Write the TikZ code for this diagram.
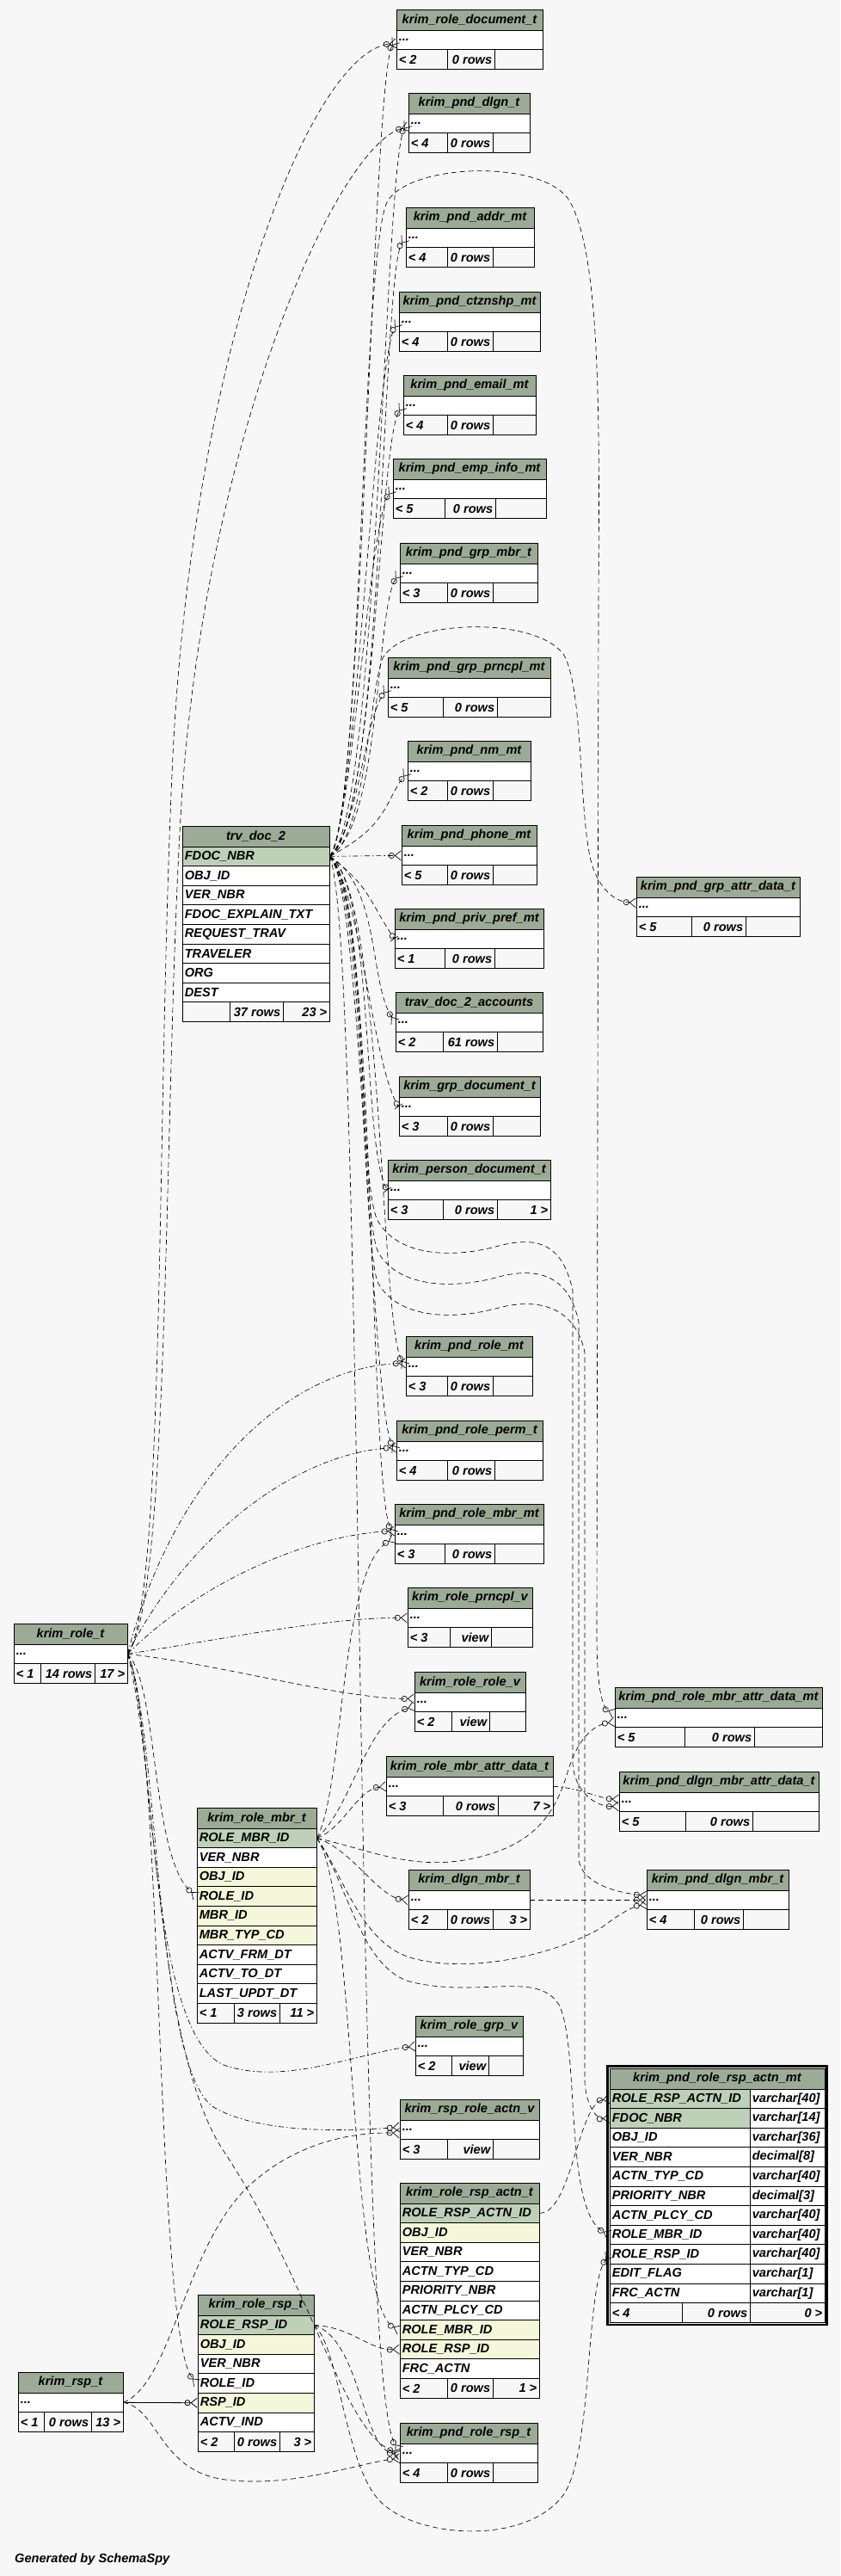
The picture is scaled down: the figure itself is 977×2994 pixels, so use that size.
\documentclass[tikz,border=0pt]{standalone}
\usepackage{fontspec}
\setmainfont{Liberation Sans}
\usepackage{xcolor}
\usepackage{tikz}
\usetikzlibrary{arrows.meta,calc}

\definecolor{hdrcol}{HTML}{9BAB96}
\definecolor{pkcol}{HTML}{BED1B8}
\definecolor{fkcol}{HTML}{F4F7DA}
\definecolor{bgcol}{HTML}{F7F7F7}

\begin{document}
\begin{tikzpicture}[
  x=1pt, y=-1pt,
  font=\fontsize{14.6}{16}\selectfont\bfseries\itshape,
  hdr/.style={draw=black, fill=hdrcol, line width=0.8pt, inner sep=0pt, minimum height=24pt},
  rowbox/.style={draw=black, fill=white, line width=0.8pt, inner sep=0pt, minimum height=22.6pt},
  footbox/.style={draw=black, fill=bgcol, line width=0.8pt, inner sep=0pt, minimum height=23pt},
  txt/.style={inner sep=3pt},
  fk/.style={line width=0.65pt, dash pattern=on 6pt off 4pt},
  fkdot/.style={line width=0.65pt, dash pattern=on 6pt off 3pt on 1.5pt off 3pt},
  many/.style={-{Circle[open,length=7pt,width=7pt] Straight Barb[reversed,length=7pt,width=11pt]}},
  onlyone/.style={-{Circle[open,length=7pt,width=7pt] Bar[width=11pt]}}
]

\fill[bgcol] (0,0) rectangle (977,2994);
\useasboundingbox (0,0) rectangle (977,2994);

\foreach \nm/\xl/\xr/\yt/\ca/\cb/\ttl/\fa/\fb/\fc in {
  roledoc/461/631/11/520/575/krim\_role\_document\_t/< 2/0 rows/{},
  pnddlgn/475/616/108/520/573/krim\_pnd\_dlgn\_t/< 4/0 rows/{},
  pndaddr/472/621/241/520/573/krim\_pnd\_addr\_mt/< 4/0 rows/{},
  pndctz/464/628/339/520/573/krim\_pnd\_ctznshp\_mt/< 4/0 rows/{},
  pndemail/469/623/436/520/573/krim\_pnd\_email\_mt/< 4/0 rows/{},
  pndemp/457/635/533/517/576/krim\_pnd\_emp\_info\_mt/< 5/0 rows/{},
  pndgrpmbr/465/625/631/520/573/krim\_pnd\_grp\_mbr\_t/< 3/0 rows/{},
  pndgrpprn/451/640/764/515/578/krim\_pnd\_grp\_prncpl\_mt/< 5/0 rows/{},
  pndnm/474/617/861/520/573/krim\_pnd\_nm\_mt/< 2/0 rows/{},
  pndphone/467/624/959/520/573/krim\_pnd\_phone\_mt/< 5/0 rows/{},
  pndpriv/459/632/1056/517/575/krim\_pnd\_priv\_pref\_mt/< 1/0 rows/{},
  travacct/460/631/1153/515/578/trav\_doc\_2\_accounts/< 2/61 rows/{},
  grpdoc/464/628/1251/520/573/krim\_grp\_document\_t/< 3/0 rows/{},
  persdoc/451/640/1348/515/578/krim\_person\_document\_t/< 3/0 rows/1 >,
  grpattr/740/930/1019/804/867/krim\_pnd\_grp\_attr\_data\_t/< 5/0 rows/{},
  pndrole/472/619/1553/520/573/krim\_pnd\_role\_mt/< 3/0 rows/{},
  pndperm/461/631/1651/520/575/krim\_pnd\_role\_perm\_t/< 4/0 rows/{},
  pndrolembr/459/632/1748/517/575/krim\_pnd\_role\_mbr\_mt/< 3/0 rows/{},
  prncplv/474/619/1845/523/571/krim\_role\_prncpl\_v/< 3/view/{},
  rolerolev/482/611/1943/525/569/krim\_role\_role\_v/< 2/view/{},
  pndrmattr/715/956/1961/796/877/krim\_pnd\_role\_mbr\_attr\_data\_mt/< 5/0 rows/{},
  rmattr/449/643/2041/515/579/krim\_role\_mbr\_attr\_data\_t/< 3/0 rows/7 >,
  pnddmattr/720/952/2059/797/875/krim\_pnd\_dlgn\_mbr\_attr\_data\_t/< 5/0 rows/{},
  dlgnmbr/475/616/2173/520/573/krim\_dlgn\_mbr\_t/< 2/0 rows/3 >,
  pnddlgnmbr/752/917/2173/807/864/krim\_pnd\_dlgn\_mbr\_t/< 4/0 rows/{},
  grpv/483/608/2343/525/568/krim\_role\_grp\_v/< 2/view/{},
  rsprolev/465/627/2440/520/573/krim\_rsp\_role\_actn\_v/< 3/view/{},
  pndrsp/465/625/2816/520/573/krim\_pnd\_role\_rsp\_t/< 4/0 rows/{},
  roletab/16/148/1887/47/110/krim\_role\_t/< 1/14 rows/17 >,
  rsptab/21/143/2757/51/106/krim\_rsp\_t/< 1/0 rows/13 >} {
  \node[hdr, minimum width={(\xr-\xl)*1pt}] (\nm-h) at ({(\xl+\xr)/2},\yt+12) {\ttl};
  \node[rowbox, minimum width={(\xr-\xl)*1pt}] (\nm) at ({(\xl+\xr)/2},\yt+35.3) {};
  \node[txt, anchor=west] at (\nm.west) {...};
  \node[footbox, minimum width={(\ca-\xl)*1pt}] (\nm-a) at ({(\xl+\ca)/2},\yt+58.1) {};
  \node[footbox, minimum width={(\cb-\ca)*1pt}] (\nm-b) at ({(\ca+\cb)/2},\yt+58.1) {};
  \node[footbox, minimum width={(\xr-\cb)*1pt}] (\nm-c) at ({(\cb+\xr)/2},\yt+58.1) {};
  \node[txt, anchor=west] at (\nm-a.west) {\fa};
  \node[txt, anchor=east] at (\nm-b.east) {\fb};
  \node[txt, anchor=east] at (\nm-c.east) {\fc};
}

\foreach \nm/\xl/\xr/\yt/\ca/\cb/\ttl/\nr/\fa/\fb/\fc/\rows in {
  trv/212/383/960/267/329/trv\_doc\_2/8/{}/37 rows/23 >/{FDOC\_NBR/pkcol,OBJ\_ID/white,VER\_NBR/white,FDOC\_EXPLAIN\_TXT/white,REQUEST\_TRAV/white,TRAVELER/white,ORG/white,DEST/white},
  rmbr/229/368/2101/272/325/krim\_role\_mbr\_t/9/< 1/3 rows/11 >/{ROLE\_MBR\_ID/pkcol,VER\_NBR/white,OBJ\_ID/fkcol,ROLE\_ID/fkcol,MBR\_ID/fkcol,MBR\_TYP\_CD/fkcol,ACTV\_FRM\_DT/white,ACTV\_TO\_DT/white,LAST\_UPDT\_DT/white},
  rra/465/627/2537/520/573/krim\_role\_rsp\_actn\_t/9/< 2/0 rows/1 >/{ROLE\_RSP\_ACTN\_ID/pkcol,OBJ\_ID/fkcol,VER\_NBR/white,ACTN\_TYP\_CD/white,PRIORITY\_NBR/white,ACTN\_PLCY\_CD/white,ROLE\_MBR\_ID/fkcol,ROLE\_RSP\_ID/fkcol,FRC\_ACTN/white},
  rrsp/230/365/2667/272/325/krim\_role\_rsp\_t/6/< 2/0 rows/3 >/{ROLE\_RSP\_ID/pkcol,OBJ\_ID/fkcol,VER\_NBR/white,ROLE\_ID/white,RSP\_ID/fkcol,ACTV\_IND/white}} {
  \node[hdr, minimum width={(\xr-\xl)*1pt}] (\nm-h) at ({(\xl+\xr)/2},\yt+12) {\ttl};
  \foreach \cn/\fl [count=\i] in \rows {
    \node[rowbox, fill=\fl, minimum width={(\xr-\xl)*1pt}] (\nm-\i) at ({(\xl+\xr)/2},{\yt+24+(\i-0.5)*22.6}) {};
    \node[txt, anchor=west] at (\nm-\i.west) {\cn};
  }
  \node[footbox, minimum width={(\ca-\xl)*1pt}] (\nm-a) at ({(\xl+\ca)/2},{\yt+35.5+\nr*22.6}) {};
  \node[footbox, minimum width={(\cb-\ca)*1pt}] (\nm-b) at ({(\ca+\cb)/2},{\yt+35.5+\nr*22.6}) {};
  \node[footbox, minimum width={(\xr-\cb)*1pt}] (\nm-c) at ({(\cb+\xr)/2},{\yt+35.5+\nr*22.6}) {};
  \node[txt, anchor=west] at (\nm-a.west) {\fa};
  \node[txt, anchor=east] at (\nm-b.east) {\fb};
  \node[txt, anchor=east] at (\nm-c.east) {\fc};
}

\node[hdr, minimum width=250pt] (foc-h) at (834,2416) {krim\_pnd\_role\_rsp\_actn\_mt};
\foreach \cn/\ty/\fl [count=\i] in {ROLE\_RSP\_ACTN\_ID/varchar[40]/pkcol,FDOC\_NBR/varchar[14]/pkcol,OBJ\_ID/varchar[36]/white,VER\_NBR/decimal[8]/white,ACTN\_TYP\_CD/varchar[40]/white,PRIORITY\_NBR/decimal[3]/white,ACTN\_PLCY\_CD/varchar[40]/white,ROLE\_MBR\_ID/varchar[40]/white,ROLE\_RSP\_ID/varchar[40]/white,EDIT\_FLAG/varchar[1]/white,FRC\_ACTN/varchar[1]/white} {
  \node[rowbox, fill=\fl, minimum width=163pt] (foc-\i) at (790.5,{2428+(\i-0.5)*22.6}) {};
  \node[rowbox, minimum width=87pt] (foc-t\i) at (915.5,{2428+(\i-0.5)*22.6}) {};
  \node[txt, anchor=west] at (foc-\i.west) {\cn};
  \node[txt, anchor=west] at (foc-t\i.west) {\ty};
}
\node[footbox, minimum width=84pt] (foc-a) at (751,2688.1) {};
\node[footbox, minimum width=79pt] (foc-b) at (832.5,2688.1) {};
\node[footbox, minimum width=87pt] (foc-c) at (915.5,2688.1) {};
\node[txt, anchor=west] at (foc-a.west) {< 4};
\node[txt, anchor=east] at (foc-b.east) {0 rows};
\node[txt, anchor=east] at (foc-c.east) {0 >};
\draw[line width=2.6pt] ([shift={(-2,-2)}]foc-h.north west) rectangle ([shift={(2,2)}]foc-c.south east);

\foreach \ch/\cx in {roledoc/422,pnddlgn/440,pndaddr/446,pndctz/414,pndemail/436,pndemp/410,pndgrpmbr/444,pndgrpprn/418,pndnm/450}
  \draw[fk, many] (trv-1.east) .. controls (\cx,960) and ($(\ch.west)+(-28,40)$) .. (\ch.west);
\foreach \ch/\cx/\tp in {pndpriv/430/onlyone,travacct/442/many,grpdoc/418/onlyone,persdoc/436/onlyone,pndrole/446/many,pndperm/422/many,pndrolembr/438/many}
  \draw[fk, \tp] (trv-1.east) .. controls (\cx,1030) and ($(\ch.west)+(-30,-45)$) .. (\ch.west);
\draw[fkdot, many] (trv-1.east) -- (pndphone.west);
\draw[fk, many] (trv-1.east) .. controls (425,1100) and (410,2780) .. ([yshift=4pt]pndrsp.west);
\draw[fk, many] (trv-1.east) .. controls (425,975) and (430,800) .. (445,765) .. controls (470,720) and (620,715) .. (655,760) .. controls (680,800) and (672,960) .. (690,1010) .. controls (700,1035) and (715,1048) .. ([yshift=5pt]grpattr.west);
\draw[fk, many] (trv-1.east) .. controls (420,960) and (420,300) .. (450,235) .. controls (475,190) and (625,185) .. (660,230) .. controls (700,290) and (697,500) .. (696,700) -- (694,1900) .. controls (694,1960) and (700,1985) .. ([yshift=5pt]pndrmattr.west);
\draw[fk, many] (trv-1.east) .. controls (430,1040) and (415,1380) .. (440,1420) .. controls (465,1462) and (530,1462) .. (580,1448) .. controls (630,1435) and (655,1450) .. (666,1500) -- (666,2050) .. controls (668,2080) and (690,2100) .. ([yshift=-5pt]pnddmattr.west);
\draw[fk, many] (trv-1.east) .. controls (428,1045) and (418,1410) .. (440,1456) .. controls (465,1498) and (530,1498) .. (580,1484) .. controls (630,1471) and (662,1486) .. (673,1536) -- (673,2160) .. controls (675,2190) and (720,2200) .. ([yshift=5pt]pnddlgnmbr.west);
\draw[fk, many] (trv-1.east) .. controls (426,1050) and (420,1450) .. (440,1492) .. controls (465,1534) and (530,1534) .. (580,1520) .. controls (630,1507) and (670,1522) .. (680,1572) -- (680,2420) .. controls (682,2450) and (695,2463) .. (foc-2.west);

\draw[fk, many] (roletab.east) .. controls (192,1860) and (182,1300) .. (200,900) .. controls (220,420) and (360,60) .. ([yshift=-4pt]roledoc.west);
\draw[fk, many] (roletab.east) .. controls (198,1860) and (190,1300) .. (210,950) .. controls (235,520) and (390,170) .. ([yshift=-4pt]pnddlgn.west);
\draw[fkdot, many] (roletab.east) .. controls (200,1720) and (330,1590) .. ([yshift=4pt]pndrole.west);
\draw[fkdot, many] (roletab.east) .. controls (215,1790) and (340,1690) .. ([yshift=4pt]pndperm.west);
\draw[fkdot, many] (roletab.east) .. controls (225,1845) and (350,1785) .. ([yshift=4pt]pndrolembr.west);
\draw[fkdot, many] (roletab.east) .. controls (260,1905) and (380,1880) .. (prncplv.west);
\draw[fk, many] (roletab.east) .. controls (260,1935) and (400,1975) .. ([yshift=4pt]rolerolev.west);
\draw[fk, many] (roletab.east) .. controls (185,1960) and (175,2160) .. (rmbr-4.west);
\draw[fkdot, many] (roletab.east) .. controls (180,2000) and (170,2360) .. (260,2400) .. controls (330,2425) and (420,2385) .. (grpv.west);
\draw[fkdot, many] (roletab.east) .. controls (185,2010) and (180,2410) .. (250,2450) .. controls (300,2478) and (390,2478) .. ([yshift=3pt]rsprolev.west);
\draw[fk, many] (roletab.east) .. controls (190,2000) and (180,2720) .. (rrsp-4.west);
\draw[fk, many] (roletab.east) .. controls (182,2050) and (180,2380) .. (260,2500) .. controls (360,2650) and (400,2830) .. (pndrsp.west);

\draw[fk, many] (rmbr-1.east) .. controls (400,2125) and (415,2080) .. (rmattr.west);
\draw[fk, many] (rmbr-1.east) .. controls (410,2150) and (440,2205) .. (dlgnmbr.west);
\draw[fk, many] (rmbr-1.east) .. controls (410,2100) and (425,2000) .. ([yshift=-5pt]rolerolev.west);
\draw[fk, many] (rmbr-1.east) .. controls (400,2080) and (395,1820) .. ([yshift=-5pt]pndrolembr.west);
\draw[fk, many] (rmbr-1.east) .. controls (415,2200) and (405,2680) .. (rra-7.west);
\draw[fk, many] (rmbr-1.east) .. controls (430,2150) and (480,2175) .. (550,2160) .. controls (620,2145) and (645,2110) .. (660,2060) .. controls (672,2020) and (690,2005) .. ([yshift=-5pt]pndrmattr.west);
\draw[fk, many] (rmbr-1.east) .. controls (400,2180) and (420,2260) .. (480,2276) .. controls (550,2295) and (650,2270) .. (700,2240) .. controls (720,2225) and (735,2216) .. ([yshift=-5pt]pnddlgnmbr.west);
\draw[fk, many] (rmbr-1.east) .. controls (405,2190) and (420,2290) .. (480,2304) .. controls (560,2322) and (625,2290) .. (650,2330) .. controls (675,2380) and (655,2570) .. (foc-8.west);

\draw[fk, many] (dlgnmbr.east) -- (pnddlgnmbr.west);
\draw[fkdot, many] (rmattr.east) .. controls (675,2078) and (695,2090) .. ([yshift=3pt]pnddmattr.west);
\draw[fk, many] (rra-1.east) .. controls (665,2572) and (672,2445) .. (foc-1.west);

\draw[fk, many] (rrsp-1.east) .. controls (410,2705) and (430,2732) .. (rra-8.west);
\draw[fk, many] (rrsp-1.east) .. controls (420,2720) and (420,2845) .. ([yshift=-2pt]pndrsp.west);
\draw[fk, many] (rrsp-1.east) .. controls (395,2730) and (400,2860) .. (440,2905) .. controls (480,2950) and (610,2960) .. (655,2900) .. controls (690,2850) and (680,2660) .. (foc-9.west);

\draw[line width=0.8pt, many] (rsptab.east) -- (rrsp-5.west);
\draw[fk, many] (rsptab.east) .. controls (200,2770) and (215,2610) .. (290,2540) .. controls (350,2485) and (420,2478) .. ([yshift=-4pt]rsprolev.west);
\draw[fk, many] (rsptab.east) .. controls (185,2800) and (185,2872) .. (262,2882) .. controls (340,2892) and (420,2862) .. ([yshift=-6pt]pndrsp.west);

\node[anchor=west, inner sep=0pt] (gen) at (17,2975) {Generated by SchemaSpy};
\end{tikzpicture}
\end{document}
